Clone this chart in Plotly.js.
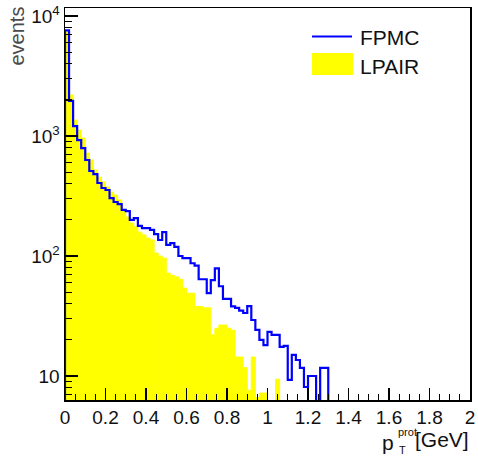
<!DOCTYPE html>
<html>
<head>
<meta charset="utf-8">
<script src="https://cdn.plot.ly/plotly-3.0.1.min.js"></script>
<style>html,body{margin:0;padding:0;background:#fff;}#plot{width:478px;height:457px;}</style>
</head>
<body>
<div id="plot"></div>
<script>
// Histogram bins: width 0.02 GeV starting at 0
const binWidth = 0.02;
const xRange = [0, 2];
// FPMC event counts per bin (blue outline)
const fpmc = [7600, 1960, 1210, 926, 794, 631, 511, 482, 406, 369,
              355, 304, 282, 271, 242, 237, 200, 207, 178, 171,
              171, 165, 152, 136, 158, 124, 128, 119, 100, 96,
              96, 87, 83, 64, 64, 49, 63, 79, 56, 44,
              44, 38, 37, 35, 33.5, 38.3, 29.3, 24.2, 20, 18.1,
              23.3, 22, 22, 17.5, 17.8, 9.3, 15, 13.6, 11.7, 8.1,
              10, 10, 0, 11.7, 11.7];
// LPAIR event counts per bin (yellow fill)
const lpair = [7400, 2200, 1360, 1120, 962, 722, 631, 521, 455, 414,
               376, 341, 322, 293, 242, 211, 188, 175, 158, 150,
               141, 136, 106, 100, 96, 72, 69, 67, 64, 54,
               49, 49, 38, 38, 37, 37, 22, 25, 26.6, 26.6,
               25, 24, 14.4, 14.4, 11.7, 7.6, 14.4, 6.6, 7.2, 7.2,
               0, 0, 9.4];
const seriesNames = ['FPMC', 'LPAIR'];
const yTickVals = [10, 100, 1000, 10000];
const yTickText = ['10', '10<sup>2</sup>', '10<sup>3</sup>', '10<sup>4</sup>'];
const xTitle = {p: 'p', sup: 'prot', sub: 'T', unit: '[GeV]'};
const yTitle = 'events';

// geometry helpers
const W = 478, H = 457, L = 65, R = 8, T = 8, B = 57;
const pw = W - L - R, ph = H - T - B;
const px = x => (x - L) / pw;
const py = y => (H - B - y) / ph;

const floorVal = 1; // below visible range, used to drop outline to the bottom
const centers = lpair.map((_, i) => (i + 0.5) * binWidth);
const barY = lpair.map(v => v > 0 ? v : null);

// step outline for FPMC
const sx = [0], sy = [floorVal];
fpmc.forEach((v, i) => {
  const val = v > 0 ? v : floorVal;
  sx.push(i * binWidth, (i + 1) * binWidth);
  sy.push(val, val);
});
sx.push(fpmc.length * binWidth); sy.push(floorVal);

const traces = [
  {type: 'bar', x: centers, y: barY, width: binWidth, name: seriesNames[1],
   marker: {color: '#ffff00', line: {color: '#ffff00', width: 1}}, showlegend: false, hoverinfo: 'skip'},
  {type: 'scatter', mode: 'lines', x: sx, y: sy, name: seriesNames[0],
   line: {color: '#0000ff', width: 2.2}, showlegend: false, hoverinfo: 'skip'}
];

// minor log ticks
const minorVals = [];
for (let e = 0; e <= 4; e++) for (let d = 2; d <= 9; d++) minorVals.push(d * Math.pow(10, e));

const font = {family: 'Liberation Sans, Arial, sans-serif', size: 20, color: '#111'};
const f = (o) => Object.assign({}, font, o);

const layout = {
  width: W, height: H,
  margin: {l: L, r: R, t: T, b: B},
  paper_bgcolor: '#fff', plot_bgcolor: '#fff',
  bargap: 0, barmode: 'overlay',
  showlegend: false,
  font: font,
  xaxis: {range: xRange, tickmode: 'linear', tick0: 0, dtick: 0.2,
          ticks: 'inside', ticklen: 12, tickwidth: 1.2, tickcolor: '#000',
          showline: true, linecolor: '#000', linewidth: 1.5, mirror: true,
          showgrid: false, zeroline: false, tickfont: f({size: 19}),
          minor: {dtick: 0.05, ticks: 'inside', ticklen: 6, tickwidth: 1.2, tickcolor: '#000', showgrid: false}},
  yaxis: {type: 'log', range: [0.8, 4.067], tickmode: 'array', tickvals: yTickVals, ticktext: yTickText,
          ticks: 'inside', ticklen: 13, tickwidth: 1.2, tickcolor: '#000',
          showline: true, linecolor: '#000', linewidth: 1.5, mirror: true,
          showgrid: false, zeroline: false, tickfont: f({size: 19}),
          minor: {tickmode: 'array', tickvals: minorVals, ticks: 'inside', ticklen: 7, tickwidth: 1.2, tickcolor: '#000', showgrid: false}},
  shapes: [
    {type: 'line', xref: 'paper', yref: 'paper', x0: px(312), x1: px(352), y0: py(36.5), y1: py(36.5),
     line: {color: '#0000ff', width: 2.2}},
    {type: 'rect', xref: 'paper', yref: 'paper', x0: px(312), x1: px(353), y0: py(75), y1: py(53),
     fillcolor: '#ffff00', line: {width: 0}}
  ],
  annotations: [
    {text: seriesNames[0], xref: 'paper', yref: 'paper', x: px(358), y: py(37), xanchor: 'left', yanchor: 'middle',
     showarrow: false, font: f({size: 21})},
    {text: seriesNames[1], xref: 'paper', yref: 'paper', x: px(358), y: py(66), xanchor: 'left', yanchor: 'middle',
     showarrow: false, font: f({size: 21})},
    {text: yTitle, xref: 'paper', yref: 'paper', x: px(17), y: py(5), xanchor: 'center', yanchor: 'top',
     textangle: -90, showarrow: false, font: f({size: 20, color: '#4a4a4a'})},
    {text: xTitle.p, xref: 'paper', yref: 'paper', x: px(396), y: py(442), xanchor: 'right', yanchor: 'middle',
     showarrow: false, font: f({size: 21})},
    {text: xTitle.sup, xref: 'paper', yref: 'paper', x: px(396), y: py(432), xanchor: 'left', yanchor: 'middle',
     showarrow: false, font: f({size: 11})},
    {text: xTitle.sub, xref: 'paper', yref: 'paper', x: px(397), y: py(450), xanchor: 'left', yanchor: 'middle',
     showarrow: false, font: f({size: 11})},
    {text: xTitle.unit, xref: 'paper', yref: 'paper', x: px(471), y: py(440), xanchor: 'right', yanchor: 'middle',
     showarrow: false, font: f({size: 21})}
  ]
};

Plotly.newPlot('plot', traces, layout, {staticPlot: true, displayModeBar: false});
</script>
</body>
</html>
